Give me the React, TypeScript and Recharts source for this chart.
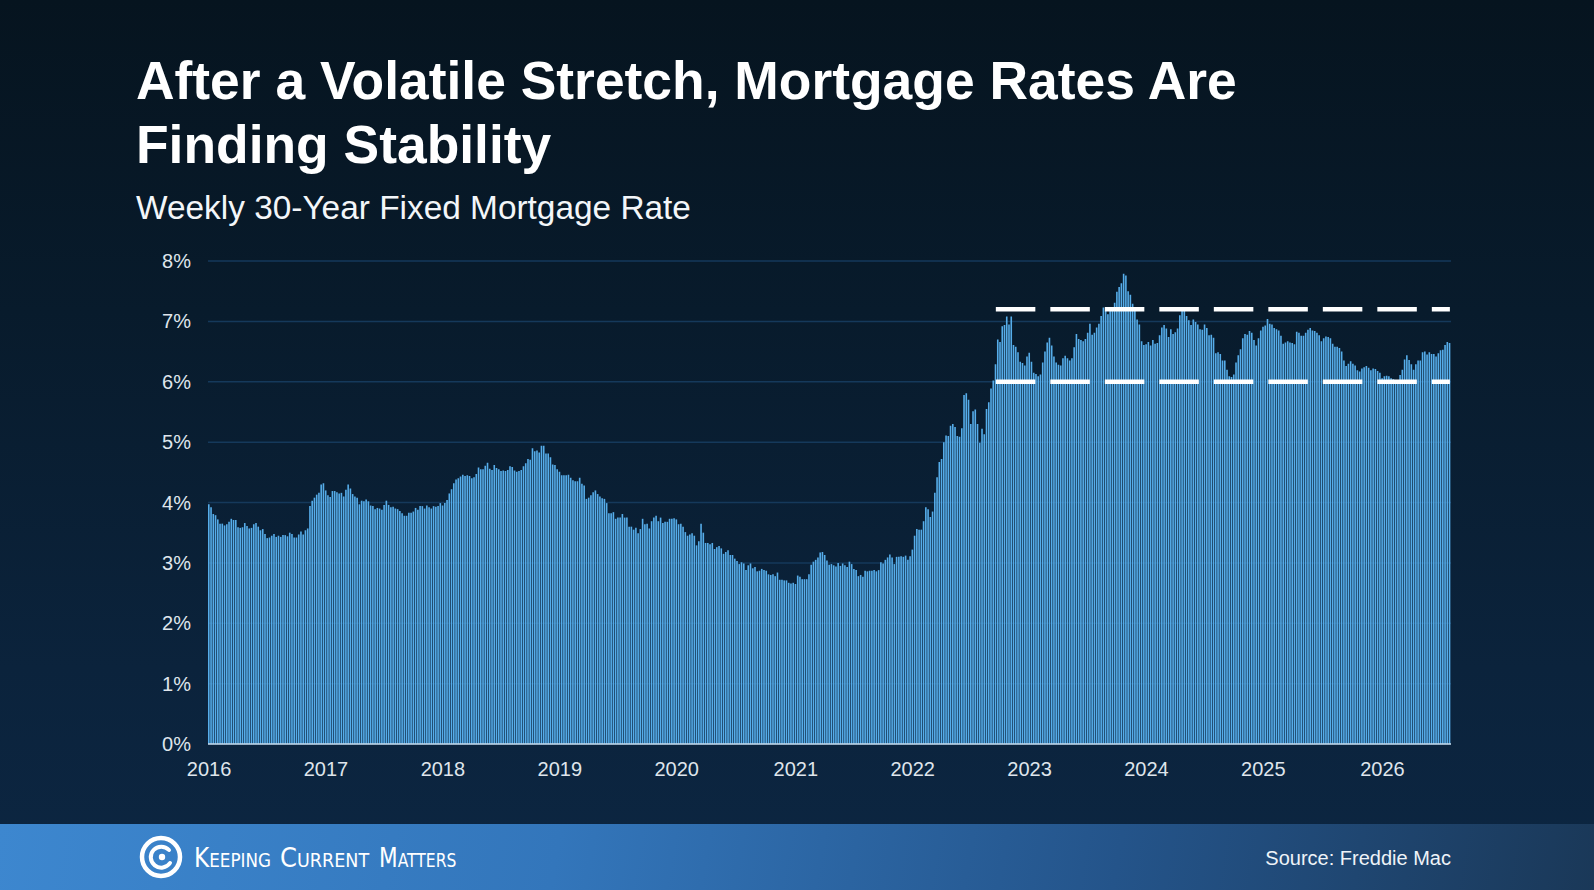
import React from "react";
import { BarChart, Bar, XAxis, YAxis, CartesianGrid, ReferenceLine } from "recharts";

// Freddie Mac PMMS, weekly 30-year fixed (%)
const rates2016 = [3.97, 3.92, 3.81, 3.79, 3.72, 3.65, 3.65, 3.62, 3.64, 3.68, 3.73, 3.71, 3.71, 3.59, 3.58, 3.59, 3.66, 3.61, 3.57, 3.58, 3.64, 3.66, 3.6, 3.54, 3.56, 3.48, 3.41, 3.42, 3.45, 3.48, 3.43, 3.45, 3.43, 3.46, 3.46, 3.44, 3.5, 3.48, 3.42, 3.42, 3.47, 3.52, 3.47, 3.54, 3.57, 3.94, 4.03, 4.08, 4.13, 4.16, 4.3, 4.32];
const rates2017 = [4.2, 4.12, 4.09, 4.19, 4.19, 4.17, 4.15, 4.16, 4.1, 4.21, 4.3, 4.23, 4.14, 4.1, 4.08, 3.97, 4.03, 4.02, 4.05, 4.02, 3.95, 3.94, 3.89, 3.91, 3.9, 3.88, 3.96, 4.03, 3.96, 3.92, 3.93, 3.9, 3.89, 3.86, 3.82, 3.78, 3.78, 3.83, 3.83, 3.85, 3.91, 3.88, 3.94, 3.94, 3.9, 3.95, 3.92, 3.9, 3.94, 3.93, 3.94, 3.99];
const rates2018 = [3.95, 3.99, 4.04, 4.15, 4.22, 4.32, 4.38, 4.4, 4.43, 4.46, 4.44, 4.45, 4.44, 4.4, 4.42, 4.47, 4.58, 4.55, 4.55, 4.61, 4.66, 4.56, 4.54, 4.62, 4.57, 4.55, 4.52, 4.53, 4.52, 4.54, 4.6, 4.59, 4.53, 4.51, 4.52, 4.54, 4.6, 4.65, 4.72, 4.71, 4.9, 4.85, 4.86, 4.83, 4.94, 4.94, 4.81, 4.81, 4.75, 4.63, 4.62, 4.55];
const rates2019 = [4.51, 4.45, 4.45, 4.45, 4.46, 4.41, 4.37, 4.35, 4.35, 4.41, 4.31, 4.28, 4.06, 4.08, 4.12, 4.17, 4.2, 4.14, 4.1, 4.07, 4.06, 3.99, 3.82, 3.82, 3.84, 3.73, 3.75, 3.75, 3.81, 3.75, 3.75, 3.6, 3.6, 3.55, 3.58, 3.49, 3.56, 3.73, 3.64, 3.65, 3.57, 3.69, 3.75, 3.78, 3.69, 3.75, 3.66, 3.68, 3.68, 3.73, 3.73, 3.74];
const rates2020 = [3.72, 3.64, 3.65, 3.6, 3.51, 3.45, 3.47, 3.49, 3.45, 3.29, 3.36, 3.65, 3.5, 3.33, 3.33, 3.31, 3.33, 3.23, 3.26, 3.28, 3.24, 3.15, 3.18, 3.21, 3.13, 3.13, 3.07, 3.03, 2.98, 3.01, 2.99, 2.88, 2.96, 2.99, 2.91, 2.93, 2.86, 2.87, 2.9, 2.88, 2.87, 2.81, 2.8, 2.81, 2.78, 2.84, 2.72, 2.72, 2.71, 2.71, 2.67, 2.66, 2.67];
const rates2021 = [2.65, 2.79, 2.77, 2.73, 2.73, 2.73, 2.81, 2.97, 3.02, 3.05, 3.09, 3.17, 3.18, 3.13, 3.04, 2.97, 2.98, 2.96, 2.94, 3.0, 2.95, 2.99, 2.96, 2.93, 3.02, 2.98, 2.9, 2.88, 2.78, 2.8, 2.77, 2.87, 2.86, 2.87, 2.87, 2.88, 2.86, 2.88, 3.01, 2.99, 3.05, 3.09, 3.14, 3.09, 2.98, 3.1, 3.1, 3.11, 3.1, 3.12, 3.05, 3.11];
const rates2022 = [3.22, 3.45, 3.56, 3.55, 3.55, 3.69, 3.92, 3.89, 3.76, 3.85, 4.16, 4.42, 4.67, 4.72, 5.0, 5.11, 5.1, 5.27, 5.3, 5.25, 5.1, 5.09, 5.23, 5.78, 5.81, 5.7, 5.3, 5.51, 5.54, 5.3, 4.99, 5.22, 5.13, 5.55, 5.66, 5.89, 6.02, 6.29, 6.7, 6.66, 6.92, 6.94, 7.08, 6.95, 7.08, 6.61, 6.58, 6.49, 6.33, 6.31, 6.27, 6.42];
const rates2023 = [6.48, 6.33, 6.15, 6.13, 6.09, 6.12, 6.32, 6.5, 6.65, 6.73, 6.6, 6.42, 6.32, 6.28, 6.27, 6.39, 6.43, 6.39, 6.35, 6.39, 6.57, 6.79, 6.71, 6.69, 6.67, 6.71, 6.81, 6.96, 6.78, 6.81, 6.9, 6.96, 7.09, 7.23, 7.18, 7.12, 7.18, 7.19, 7.31, 7.49, 7.57, 7.63, 7.79, 7.76, 7.5, 7.44, 7.29, 7.22, 7.03, 6.95, 6.67, 6.61];
const rates2024 = [6.62, 6.66, 6.6, 6.69, 6.63, 6.64, 6.77, 6.9, 6.94, 6.88, 6.74, 6.87, 6.79, 6.82, 6.88, 7.1, 7.17, 7.22, 7.09, 7.02, 6.94, 7.03, 6.99, 6.95, 6.87, 6.86, 6.95, 6.89, 6.77, 6.78, 6.73, 6.47, 6.49, 6.46, 6.35, 6.35, 6.2, 6.09, 6.08, 6.12, 6.32, 6.44, 6.54, 6.72, 6.79, 6.78, 6.84, 6.81, 6.69, 6.6, 6.72, 6.85];
const rates2025 = [6.91, 6.93, 7.04, 6.96, 6.95, 6.89, 6.87, 6.85, 6.76, 6.63, 6.65, 6.67, 6.65, 6.64, 6.62, 6.83, 6.81, 6.76, 6.76, 6.81, 6.86, 6.89, 6.85, 6.84, 6.81, 6.77, 6.67, 6.72, 6.75, 6.74, 6.72, 6.63, 6.58, 6.58, 6.56, 6.5, 6.35, 6.26, 6.3, 6.34, 6.3, 6.27, 6.19, 6.17, 6.22, 6.24, 6.26, 6.23, 6.19, 6.22, 6.21, 6.18, 6.15];
const rates2026 = [6.06, 6.09, 6.1, 6.09, 6.06, 6.04, 6.01, 6.0, 6.11, 6.2, 6.37, 6.44, 6.36, 6.29, 6.2, 6.29, 6.35, 6.35, 6.49, 6.5, 6.45, 6.49, 6.46, 6.46, 6.42, 6.47, 6.52, 6.53, 6.61, 6.66, 6.64];

const years = ["2016", "2017", "2018", "2019", "2020", "2021", "2022", "2023", "2024", "2025", "2026"];
const ratesByYear = [rates2016, rates2017, rates2018, rates2019, rates2020, rates2021, rates2022, rates2023, rates2024, rates2025, rates2026];
const yTicks = [0, 1, 2, 3, 4, 5, 6, 7, 8];

// range band drawn as dashed lines
const bandHigh = 7.2;
const bandLow = 6.0;
const bandStart = "2022-37";

const data = ratesByYear.flatMap((list, yi) =>
  list.map((rate, wi) => ({ week: `${years[yi]}-${wi}`, rate }))
);
const yearTicks = years.map((y) => `${y}-0`);
const lastWeek = data[data.length - 1].week;

const tickFont = { fill: "#dfe5ec", fontSize: 20, fontFamily: "Liberation Sans, Arial, sans-serif" };

// logo words: big first letter, small-cap rest
function LogoWord({ x, sx, first, rest }: { x: number; sx: number; first: string; rest: string }) {
  return (
    <g transform={`translate(${x} 867) scale(${sx} 1)`}>
      <text x={0} y={0}>
        <tspan fontSize={27}>{first}</tspan>
        <tspan fontSize={19.5}>{rest}</tspan>
      </text>
    </g>
  );
}

function Logo() {
  return (
    <g fill="#fff" fontFamily="DejaVu Sans, sans-serif">
      <circle cx={161} cy={857} r={19} fill="none" stroke="#fff" strokeWidth={4.5} />
      <path d="M 169 850 A 10.5 10.5 0 1 0 170 863" fill="none" stroke="#fff" strokeWidth={4} strokeLinecap="round" />
      <circle cx={162} cy={857} r={3.2} />
      <LogoWord x={194} sx={0.86} first="K" rest="EEPING" />
      <LogoWord x={280} sx={0.9} first="C" rest="URRENT" />
      <LogoWord x={379} sx={0.8} first="M" rest="ATTERS" />
    </g>
  );
}

export default function App() {
  return (
    <div
      style={{
        position: "absolute",
        left: 0,
        top: 0,
        width: 1594,
        height: 890,
        overflow: "hidden",
        background: "linear-gradient(180deg, #06141f 0%, #081b2c 35%, #0b233c 75%, #0c2642 100%)",
      }}
    >
      <div style={{ position: "absolute", left: 0, top: 824, width: 1594, height: 66, background: "linear-gradient(100deg, #3d87cf 0%, #3376bb 35%, #24548a 70%, #1a3858 100%)" }} />

      <div style={{ position: "absolute", left: 0, top: 0 }}>
        <BarChart width={1594} height={800} data={data} margin={{ top: 261, right: 143, bottom: 16, left: 148 }} barCategoryGap={0}>
          <CartesianGrid vertical={false} stroke="#15395b" strokeWidth={1.5} />
          <XAxis
            dataKey="week"
            ticks={yearTicks}
            interval={0}
            tickFormatter={(v) => String(v).slice(0, 4)}
            tick={tickFont}
            tickLine={false}
            tickSize={0}
            tickMargin={18}
            axisLine={{ stroke: "#c8dcec", strokeWidth: 1.5 }}
            height={40}
          />
          <YAxis
            domain={[0, 8]}
            ticks={yTicks}
            tickFormatter={(v) => `${v}%`}
            tick={tickFont}
            axisLine={false}
            tickLine={false}
            tickSize={0}
            tickMargin={17}
            width={60}
          />
          <Bar dataKey="rate" fill="#56adea" barSize={1.6} isAnimationActive={false} />
          <ReferenceLine segment={[{ x: bandStart, y: bandHigh }, { x: lastWeek, y: bandHigh }]} stroke="#ffffff" strokeWidth={4.5} strokeDasharray="39.5 15" />
          <ReferenceLine segment={[{ x: bandStart, y: bandLow }, { x: lastWeek, y: bandLow }]} stroke="#ffffff" strokeWidth={4.5} strokeDasharray="39.5 15" />
        </BarChart>
      </div>

      <svg width={1594} height={890} style={{ position: "absolute", left: 0, top: 0, pointerEvents: "none" }}>
        <g fontFamily="Liberation Sans, Arial, sans-serif" fill="#ffffff">
          <text x={136} y={99} fontSize={53.4} fontWeight={700}>After a Volatile Stretch, Mortgage Rates Are</text>
          <text x={136} y={163} fontSize={53.4} fontWeight={700}>Finding Stability</text>
          <text x={136} y={219} fontSize={33.4} fill="#f3f6f9">Weekly 30-Year Fixed Mortgage Rate</text>
          <text x={1451} y={865} fontSize={20} textAnchor="end" fill="#eef3f8">Source: Freddie Mac</text>
        </g>
        <Logo />
      </svg>
    </div>
  );
}
